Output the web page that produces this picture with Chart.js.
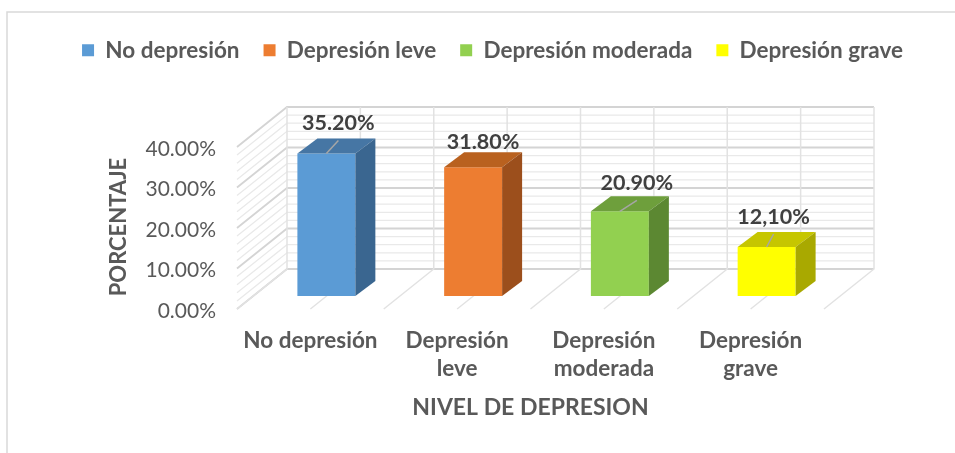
<!DOCTYPE html>
<html>
<head>
<meta charset="utf-8">
<script src="https://cdn.jsdelivr.net/npm/chart.js@4.4.1/dist/chart.umd.min.js"></script>
<style>
  html, body { margin: 0; padding: 0; background: #ffffff; }
  canvas { display: block; }
</style>
</head>
<body>
<canvas id="c" width="955" height="453"></canvas>
<script>
// ---------- DATA ----------
const categories = ['No depresión', 'Depresión leve', 'Depresión moderada', 'Depresión grave'];
const axisLabels = [['No depresión'], ['Depresión', 'leve'], ['Depresión', 'moderada'], ['Depresión', 'grave']];
const values = [35.2, 31.8, 20.9, 12.1];
const valueLabels = ['35.20%', '31.80%', '20.90%', '12,10%'];
const tickLabels = ['0.00%', '10.00%', '20.00%', '30.00%', '40.00%'];
const yTitle = 'PORCENTAJE';
const xTitle = 'NIVEL DE DEPRESION';

// ---------- STYLE ----------
const frontColors = ['#5B9BD5', '#ED7D31', '#92D050', '#FFFF00'];
const topColors   = ['#4676A4', '#B9611F', '#6E9F3C', '#C6C600'];
const sideColors  = ['#3A6690', '#9C4F1C', '#5C8832', '#A9A900'];
const FONT = 'Lato, "Open Sans", sans-serif';
const TXT = '#595959';
const FRONT = {dx: -16, dy: 13};   // front plane relative to bar front faces
const BACK  = {dx: 34, dy: -27};   // back wall relative to bar front faces
const BAR   = {dx: 20, dy: -15};   // bar depth
const labelShift = [[12, -30], [10, -25], [17, -28], [7, -30]];
const leader = [true, false, true, true];

const walls = {
  id: 'walls',
  beforeDraw(chart) {
    const ctx = chart.ctx;
    ctx.save();
    ctx.strokeStyle = '#D9D9D9';
    ctx.lineWidth = 1.5;
    ctx.beginPath();
    ctx.moveTo(7, 453); ctx.lineTo(7, 12); ctx.lineTo(955, 12);
    ctx.stroke();
    ctx.restore();
  },
  beforeDatasetsDraw(chart) {
    const ctx = chart.ctx;
    const xs = chart.scales.x, ys = chart.scales.y;
    const L = xs.left, R = xs.right;
    const n = xs.ticks.length * 2;
    const step = (R - L) / n;
    ctx.save();
    for (let v = 0; v <= 40; v += 2) {
      const major = v % 10 === 0;
      const py = ys.getPixelForValue(v);
      ctx.strokeStyle = major ? '#D4D4D4' : '#E9E9E9';
      ctx.lineWidth = major ? 1.8 : 1.3;
      ctx.beginPath();
      ctx.moveTo(L + FRONT.dx, py + FRONT.dy);
      ctx.lineTo(L + BACK.dx, py + BACK.dy);
      ctx.lineTo(R + BACK.dx, py + BACK.dy);
      ctx.stroke();
    }
    const y0 = ys.getPixelForValue(0), y40 = ys.getPixelForValue(40);
    ctx.strokeStyle = '#E2E2E2';
    ctx.lineWidth = 1.5;
    for (let i = 0; i <= n; i++) {
      const px = L + i * step;
      ctx.beginPath();
      ctx.moveTo(px + BACK.dx, y40 + BACK.dy);
      ctx.lineTo(px + BACK.dx, y0 + BACK.dy);
      ctx.lineTo(px + FRONT.dx, y0 + FRONT.dy);
      ctx.stroke();
    }
    ctx.restore();
  },
  afterDatasetsDraw(chart) {
    const ctx = chart.ctx;
    const meta = chart.getDatasetMeta(0);
    ctx.save();
    meta.data.forEach((bar, i) => {
      const {x, y, base, width} = bar.getProps(['x', 'y', 'base', 'width'], true);
      const l = x - width / 2, r = x + width / 2;
      ctx.fillStyle = topColors[i];
      ctx.beginPath();
      ctx.moveTo(l, y); ctx.lineTo(r, y); ctx.lineTo(r + BAR.dx, y + BAR.dy); ctx.lineTo(l + BAR.dx, y + BAR.dy);
      ctx.closePath(); ctx.fill();
      ctx.fillStyle = sideColors[i];
      ctx.beginPath();
      ctx.moveTo(r, y); ctx.lineTo(r + BAR.dx, y + BAR.dy); ctx.lineTo(r + BAR.dx, base + BAR.dy); ctx.lineTo(r, base);
      ctx.closePath(); ctx.fill();
      const lx = x + labelShift[i][0], ly = y + labelShift[i][1];
      if (leader[i]) {
        ctx.strokeStyle = '#A6A6A6';
        ctx.lineWidth = 1.5;
        ctx.beginPath();
        ctx.moveTo(x, y); ctx.lineTo(lx, ly + 17);
        ctx.stroke();
      }
      ctx.fillStyle = '#404040';
      ctx.font = 'bold 21.5px ' + FONT;
      ctx.textAlign = 'center';
      ctx.textBaseline = 'middle';
      ctx.fillText(valueLabels[i], lx, ly);
    });
    const xs = chart.scales.x;
    ctx.fillStyle = TXT;
    ctx.textAlign = 'center';
    ctx.textBaseline = 'middle';
    ctx.font = 'bold 23px ' + FONT;
    ctx.fillText(xTitle, (xs.left + xs.right) / 2 + FRONT.dx, 408);
    ctx.font = 'bold 22px ' + FONT;
    ctx.translate(119, 227);
    ctx.rotate(-Math.PI / 2);
    ctx.fillText(yTitle, 0, 0);
    ctx.restore();
  }
};

new Chart(document.getElementById('c'), {
  type: 'bar',
  data: {
    labels: axisLabels,
    datasets: [{
      data: values,
      backgroundColor: frontColors,
      borderWidth: 0,
      barPercentage: 0.395,
      categoryPercentage: 1.0
    }]
  },
  options: {
    responsive: false,
    animation: false,
    devicePixelRatio: 1,
    layout: {padding: {left: 30, right: 0, top: 15, bottom: 0}},
    plugins: {
      tooltip: {enabled: false},
      legend: {
        position: 'top',
        onClick: null,
        labels: {
          boxWidth: 12,
          boxHeight: 12,
          padding: 24,
          color: TXT,
          font: {family: FONT, size: 22.5, weight: 'bold'},
          generateLabels: () => categories.map((c, i) => ({
            text: c, fillStyle: frontColors[i], strokeStyle: frontColors[i],
            lineWidth: 0, hidden: false, index: i, fontColor: TXT
          }))
        }
      }
    },
    scales: {
      x: {
        type: 'category',
        grid: {display: false, drawTicks: false},
        border: {display: false},
        ticks: {
          color: TXT,
          font: {family: FONT, size: 22.5, weight: 'bold', lineHeight: 1.25},
          padding: 31,
          labelOffset: FRONT.dx,
          maxRotation: 0,
          autoSkip: false
        },
        afterFit(s) { s.height = 157; }
      },
      xTop: {
        type: 'category',
        labels: [''],
        position: 'top',
        grid: {display: false, drawTicks: false},
        border: {display: false},
        ticks: {display: false},
        afterFit(s) { s.height = 62.5; }
      },
      y: {
        min: 0,
        max: 40,
        grid: {display: false, drawTicks: false},
        border: {display: false},
        ticks: {
          stepSize: 10,
          autoSkip: false,
          color: TXT,
          font: {family: FONT, size: 21},
          padding: 37,
          labelOffset: 15,
          callback: (v, i) => tickLabels[i]
        },
        afterFit(s) { s.width = 223; }
      },
      yR: {
        position: 'right',
        grid: {display: false, drawTicks: false},
        border: {display: false},
        ticks: {display: false},
        afterFit(s) { s.width = 115; }
      }
    }
  },
  plugins: [walls]
});
</script>
</body>
</html>
